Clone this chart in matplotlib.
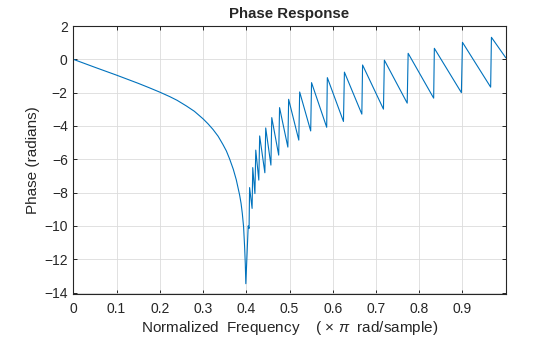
import matplotlib
matplotlib.use("Agg")
import matplotlib.pyplot as plt

plt.rcParams['font.family'] = ['Liberation Sans', 'DejaVu Sans']
plt.rcParams['mathtext.fontset'] = 'custom'
plt.rcParams['mathtext.rm'] = 'Liberation Sans'
plt.rcParams['mathtext.it'] = 'Liberation Sans:italic'

# smooth part of the phase curve down to the dip near 0.4
smooth_freq = [0, 0.05, 0.1, 0.15, 0.175, 0.2, 0.2231, 0.24, 0.2615, 0.28, 0.3, 0.3115,
               0.3231, 0.335, 0.3462, 0.354, 0.3615, 0.37, 0.3769, 0.3846, 0.388, 0.3908,
               0.3938, 0.3962, 0.3978, 0.3990]
smooth_phase = [0, -0.48, -0.95, -1.44, -1.70, -1.97, -2.24, -2.46, -2.80, -3.12, -3.57, -3.87,
                -4.21, -4.62, -5.12, -5.5, -5.98, -6.6, -7.23, -8.14, -8.65, -9.24,
                -10.05, -11.26, -12.3, -13.47]

# first step out of the dip
dip_freq = [0.4045]
dip_phase = [-10.0]

# sawtooth: bottom of each ramp, then top after the wrap
trough_freq = [0.4065, 0.4135, 0.4200, 0.4290, 0.4430, 0.4570, 0.4750, 0.4962, 0.5215,
               0.549, 0.586, 0.6248, 0.6673, 0.7173, 0.7722, 0.8334, 0.8975, 0.9652]
trough_phase = [-10.15, -8.95, -8.06, -7.25, -6.81, -6.35, -5.75, -5.27, -4.85,
                -4.3, -4.08, -3.73, -3.29, -2.99, -2.63, -2.33, -2.0, -1.67]
peak_freq = [0.4077, 0.4150, 0.4220, 0.4310, 0.4450, 0.459, 0.477, 0.498, 0.5235,
             0.551, 0.5875, 0.627, 0.669, 0.7194, 0.7744, 0.835, 0.900, 0.967]
peak_phase = [-7.7, -6.5, -5.45, -4.6, -4.12, -3.5, -2.9, -2.4, -1.96,
              -1.4, -1.1, -0.77, -0.34, -0.05, 0.36, 0.66, 1.02, 1.32]

end_freq = [1.0]
end_phase = [0.1]

freq = smooth_freq + dip_freq
phase = smooth_phase + dip_phase
for tf, tp, pf, pp in zip(trough_freq, trough_phase, peak_freq, peak_phase):
    freq += [tf, pf]
    phase += [tp, pp]
freq += end_freq
phase += end_phase

fig = plt.figure(figsize=(5.6, 3.37), dpi=100)
ax = fig.add_axes([73.3/560, 1-293.7/337, (505.7-73.3)/560, (293.7-26)/337])

ax.plot(freq, phase, color='#0072BD', lw=0.8)

ax.set_xlim(0, 1)
ax.set_ylim(-14.07, 2)
ax.set_xticks([0, 0.1, 0.2, 0.3, 0.4, 0.5, 0.6, 0.7, 0.8, 0.9])
ax.set_xticklabels(['0', '0.1', '0.2', '0.3', '0.4', '0.5', '0.6', '0.7', '0.8', '0.9'])
ax.set_yticks(range(-14, 3, 2))
ax.grid(True, color='#dcdcdc', lw=0.6)
ax.set_axisbelow(True)
ax.tick_params(direction='in', top=True, right=True, length=3, width=0.7,
               labelsize=10, colors='#262626')
ax.tick_params(axis='x', pad=6)
ax.tick_params(axis='y', pad=4)
for s in ax.spines.values():
    s.set_color('#262626')
    s.set_linewidth(0.8)

ax.set_title('Phase Response', fontsize=10.8, fontweight='bold', color='#262626', pad=6)
ax.set_xlabel(r'Normalized  Frequency    ( $\times\ \pi$  rad/sample)', fontsize=11,
              color='#262626', labelpad=2)
ax.set_ylabel('Phase (radians)', fontsize=11, color='#262626', labelpad=3)

fig.savefig('out.png', dpi=100)
